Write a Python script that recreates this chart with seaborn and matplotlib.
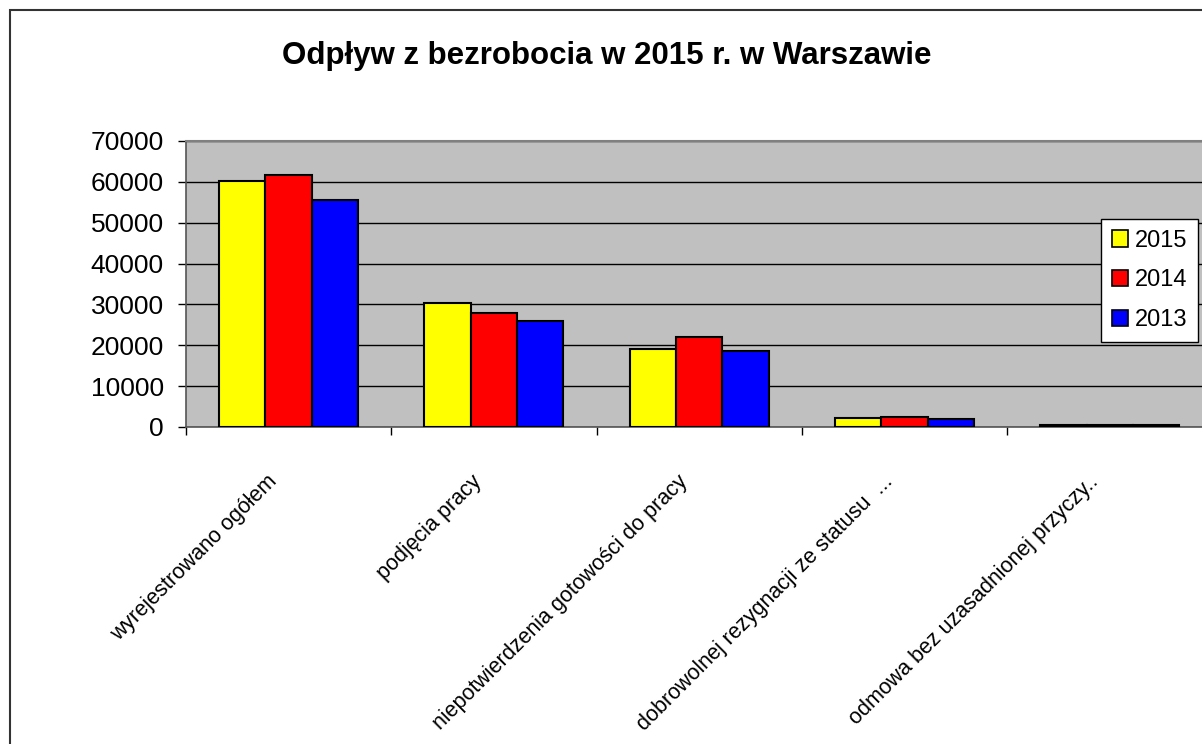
import numpy as np
import pandas as pd
import matplotlib
matplotlib.use("Agg")
import matplotlib.pyplot as plt
import matplotlib.transforms as mtransforms
from matplotlib.patches import Rectangle, Patch
import seaborn as sns

# Data
categories = [
    "wyrejestrowano ogółem",
    "podjęcia pracy",
    "niepotwierdzenia gotowości do pracy",
    "dobrowolnej rezygnacji ze statusu  ...",
    "odmowa bez uzasadnionej przyczy..",
]
years = ["2015", "2014", "2013"]
v2015 = [60300, 30300, 19100, 2300, 550]
v2014 = [61800, 27900, 22100, 2350, 600]
v2013 = [55500, 26000, 18700, 1850, 550]
colors = {"2015": "#FFFF00", "2014": "#FF0000", "2013": "#0000FF"}

df = pd.DataFrame({
    "kategoria": categories * 3,
    "rok": [y for y in years for _ in categories],
    "liczba": v2015 + v2014 + v2013,
})

sns.set_style("white")
plt.rcParams["font.family"] = ["Liberation Sans", "DejaVu Sans"]
plt.rcParams["text.color"] = "black"
plt.rcParams["xtick.color"] = "black"
plt.rcParams["ytick.color"] = "black"

fig = plt.figure(figsize=(12.02, 7.44), dpi=100)
W, H = 1202, 744

# outer chart frame (cropped on the right and bottom in the original)
fig.patches.append(Rectangle((10 / W, -0.1), 1.2, (H - 10) / H + 0.1,
                             transform=fig.transFigure, fill=False,
                             edgecolor="#333333", linewidth=1.5))

ax = fig.add_axes([186 / W, (H - 427) / H, 1026.5 / W, 286 / H])
ax.set_facecolor("#C0C0C0")

sns.barplot(data=df, x="kategoria", y="liczba", hue="rok", hue_order=years,
            order=categories, palette=colors, width=0.677, edgecolor="black",
            linewidth=1.5, saturation=1, ax=ax, legend=False, zorder=3)

ax.set_xlim(-0.5, len(categories) - 0.5)
ax.set_ylim(0, 70000)
ax.set_yticks(np.arange(0, 70001, 10000))
ax.yaxis.grid(True, color="black", linewidth=1, zorder=1)
ax.set_axisbelow(True)
ax.set_xlabel("")
ax.set_ylabel("")

for side in ["top", "right"]:
    ax.spines[side].set_color("#808080")
    ax.spines[side].set_linewidth(1.5)
ax.spines["left"].set_color("#555555")
ax.spines["bottom"].set_color("#555555")
ax.spines["left"].set_linewidth(1.2)
ax.spines["bottom"].set_linewidth(1.2)

ax.tick_params(axis="y", labelsize=19, length=6, width=1, color="black",
               labelcolor="black", pad=10, left=True)
ax.set_xticks(np.arange(len(categories)))
ax.set_xticks(np.arange(len(categories) + 1) - 0.5, minor=True)
ax.tick_params(axis="x", which="major", length=0, pad=37, labelcolor="black")
ax.tick_params(axis="x", which="minor", length=6, width=1, color="black",
               bottom=True)
ax.set_xticklabels(categories, rotation=45, ha="right", va="center",
                   rotation_mode="anchor", fontsize=15.5)
offset = mtransforms.ScaledTranslation(-15 / 100, 0, fig.dpi_scale_trans)
for lab in ax.get_xticklabels():
    lab.set_transform(lab.get_transform() + offset)

fig.text(607 / W, 1 - 56 / H, "Odpływ z bezrobocia w 2015 r. w Warszawie",
         ha="center", va="center", fontsize=22.5, fontweight="bold",
         color="black")

handles = [Patch(facecolor=colors[y], edgecolor="black", linewidth=1.2,
                 label=y) for y in years]
leg = fig.legend(handles=handles, loc="upper left",
                 bbox_to_anchor=(1101 / W, 1 - 219 / H), fontsize=17,
                 frameon=True, fancybox=False, framealpha=1,
                 handlelength=0.7, handleheight=0.7, handletextpad=0.3,
                 labelspacing=0.75, borderpad=0.45, borderaxespad=0)
leg.get_frame().set_edgecolor("black")
leg.get_frame().set_linewidth(1)
leg.get_frame().set_facecolor("white")

fig.savefig("out.png", dpi=100)
